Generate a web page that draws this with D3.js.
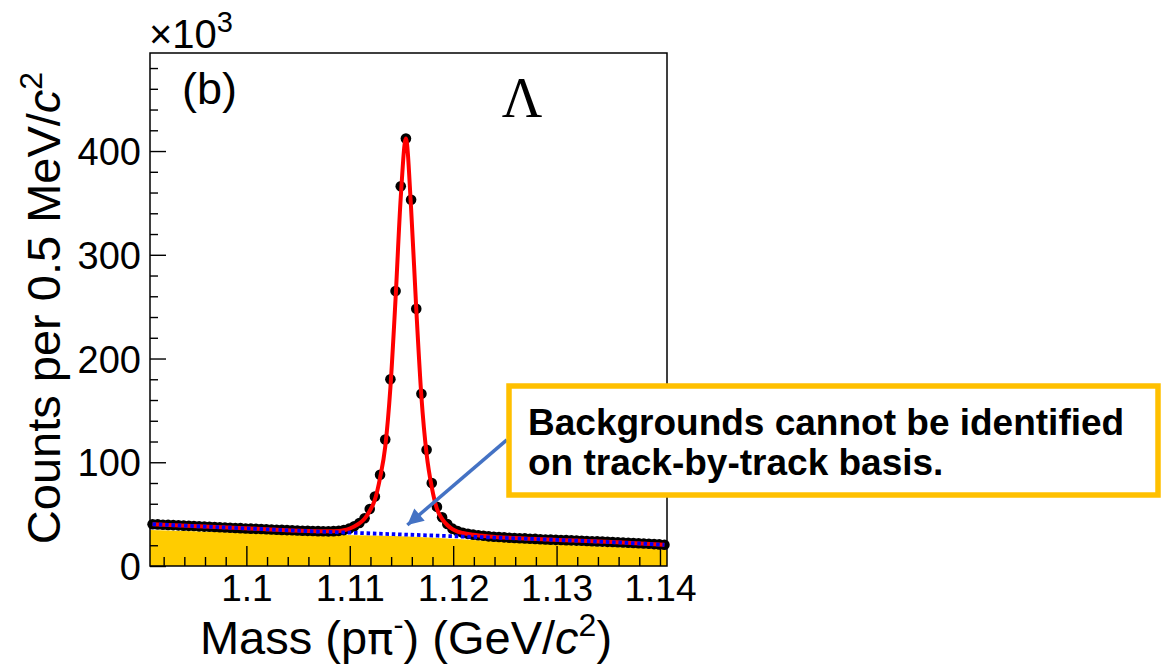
<!DOCTYPE html>
<html><head><meta charset="utf-8">
<script src="https://cdn.jsdelivr.net/npm/d3@7"></script>
<style>body{margin:0;background:#fff} svg{display:block}</style>
</head><body>
<svg id="c" width="1168" height="666"></svg>
<script>
// ---- data (counts in units of 10^3 per 0.5 MeV/c^2 bin) ----
const binLow = 1.09068;
const binWidth = 0.0005;
const counts = [
 40.3,40.1,39.8,39.6,39.4,39.2,38.9,38.7,38.5,38.2,
 38.0,37.8,37.6,37.3,37.1,36.9,36.7,36.5,36.2,36.0,
 35.8,35.6,35.4,35.2,35.0,34.8,34.6,34.4,34.2,34.0,
 33.9,33.7,33.6,33.5,33.4,33.6,33.9,34.6,36.0,38.3,
 41.5,46,55,67,88,122,180,265,366,412,
 353,248,166,112,80,57,47,40.5,36,33.6,
 32.0,31.0,30.2,29.6,29.1,28.6,28.2,27.9,27.6,27.3,
 27.0,26.8,26.6,26.3,26.1,25.8,25.6,25.4,25.2,25.0,
 24.9,24.7,24.5,24.3,24.1,23.9,23.7,23.5,23.3,23.1,
 22.9,22.7,22.4,22.2,21.9,21.7,21.4,21.1,20.8,20.5
];
// total fit (red), sampled at bin indices
const fitBins = [0,10,20,30,34,36,37,38,39,40,41,42,43,44,45,46,47,48,49,50,51,52,53,54,55,56,57,58,59,60,62,65,70,80,90,99];
const fitVals = [40.3,38.0,35.8,33.8,33.4,33.8,34.5,35.8,38.0,41.0,45.5,53,64,85,115,172,258,355,412,345,248,163,108,76,55,45.5,39.5,35.5,33.2,31.8,30.1,28.5,26.9,24.9,22.8,20.5];
// fitted background (blue dotted)
const bkgBins = [0,10,20,30,40,50,60,70,80,90,99];
const bkgVals = [40.3,38.0,35.8,33.6,31.8,30.1,28.4,26.7,24.8,22.7,20.4];
// estimated background histogram (yellow fill)
const fillMass = [1.09068,1.0957,1.1007,1.1057,1.1107,1.1157,1.1207,1.1257,1.1307,1.1357,1.14068];
const fillVals = [34.8,33.2,31.8,30.6,29.6,28.4,25.8,22.8,20.5,18.2,16.1];
// axis ticks
const xMajor = [1.10,1.11,1.12,1.13,1.14];
const xMajorLabels = ["1.1","1.11","1.12","1.13","1.14"];
const yMajor = [0,100,200,300,400];
const yMajorLabels = ["0","100","200","300","400"];

// ---- drawing ----
const svg = d3.select("#c");
const FONT = "'Liberation Sans', Arial, Helvetica, sans-serif";
const L = 150, R = 667, T = 53, B = 566;
const x = d3.scaleLinear().domain([1.09068, 1.14068]).range([L, R]);
const y = d3.scaleLinear().domain([0, 494.5]).range([B, T]);
const binCenter = i => binLow + (i + 0.5) * binWidth;

// yellow fill
svg.append("path")
  .datum(fillMass.map((m, i) => [m, fillVals[i]]))
  .attr("fill", "#FFCC00")
  .attr("d", d3.area().x(d => x(d[0])).y0(y(0)).y1(d => y(d[1])).curve(d3.curveMonotoneX));

// axes
const xMinor = d3.range(1.092, 1.1405, 0.002).filter(v => xMajor.every(t => Math.abs(t - v) > 1e-6));
const yMinor = d3.range(20, 494, 20).filter(v => v % 100 !== 0);

const gx = svg.append("g").attr("transform", `translate(0,${B})`);
gx.call(d3.axisBottom(x).tickValues(xMinor).tickSize(-9).tickFormat(""));
gx.call(g => g.select(".domain").remove());
const gx2 = svg.append("g").attr("transform", `translate(0,${B})`);
gx2.call(d3.axisBottom(x).tickValues(xMajor).tickSize(-20).tickPadding(9).tickFormat((d, i) => xMajorLabels[i]));
gx2.select(".domain").remove();

const gy = svg.append("g").attr("transform", `translate(${L},0)`);
gy.call(d3.axisLeft(y).tickValues(yMinor).tickSize(-8).tickFormat(""));
gy.select(".domain").remove();
const gy2 = svg.append("g").attr("transform", `translate(${L},0)`);
gy2.call(d3.axisLeft(y).tickValues(yMajor).tickSize(-16).tickPadding(9).tickFormat((d, i) => yMajorLabels[i]));
gy2.select(".domain").remove();

svg.selectAll(".tick line").attr("stroke", "#000").attr("stroke-width", 1.4);
svg.selectAll(".tick text").attr("font-family", FONT).attr("font-size", 37).attr("fill", "#000");
gy2.selectAll(".tick text").attr("font-size", 38).attr("dy", "0.36em");

// frame
svg.append("rect").attr("x", L).attr("y", T).attr("width", R - L).attr("height", B - T)
  .attr("fill", "none").attr("stroke", "#000").attr("stroke-width", 1.5);

// data points
svg.append("g").selectAll("circle").data(counts).join("circle")
  .attr("cx", (d, i) => x(binCenter(i))).attr("cy", d => y(d)).attr("r", 5.3).attr("fill", "#000");

// fit line
svg.append("path")
  .datum(fitBins.map((b, i) => [binCenter(b), fitVals[i]]))
  .attr("fill", "none").attr("stroke", "#FF0000").attr("stroke-width", 4)
  .attr("d", d3.line().x(d => x(d[0])).y(d => y(d[1])).curve(d3.curveMonotoneX));

// background fit (dotted blue)
svg.append("path")
  .datum(bkgBins.map((b, i) => [binCenter(b), bkgVals[i]]))
  .attr("fill", "none").attr("stroke", "#0000FF").attr("stroke-width", 3.8)
  .attr("stroke-dasharray", "3.5,2.8")
  .attr("d", d3.line().x(d => x(d[0])).y(d => y(d[1])).curve(d3.curveMonotoneX));

// exponent label
const ex = svg.append("text").attr("x", 149).attr("y", 48).attr("font-family", FONT).attr("font-size", 40).attr("fill", "#000");
ex.append("tspan").text("\u00d710");
ex.append("tspan").attr("font-size", 29).attr("dy", -16).text("3");

// (b) and Lambda
svg.append("text").attr("x", 182).attr("y", 104).attr("font-family", FONT).attr("font-size", 45).text("(b)");
svg.append("text").attr("x", 522).attr("y", 117).attr("text-anchor", "middle")
  .attr("font-family", "'Liberation Serif', 'Times New Roman', serif").attr("font-size", 56).text("\u039b");

// axis titles
const yt = svg.append("text").attr("transform", "translate(60,308) rotate(-90)")
  .attr("text-anchor", "middle").attr("font-family", FONT).attr("font-size", 47);
yt.append("tspan").text("Counts per 0.5 MeV/");
yt.append("tspan").attr("font-style", "italic").text("c");
yt.append("tspan").attr("font-size", 32).attr("dy", -18).text("2");

const xt = svg.append("text").attr("x", 406).attr("y", 654)
  .attr("text-anchor", "middle").attr("font-family", FONT).attr("font-size", 47);
xt.append("tspan").text("Mass (p");
xt.append("tspan").attr("font-family", "'DejaVu Sans', sans-serif").attr("font-size", 44).text("\u03c0");
xt.append("tspan").attr("font-size", 30).attr("dy", -19).text("-");
xt.append("tspan").attr("dy", 19).text(") (GeV/");
xt.append("tspan").attr("font-style", "italic").text("c");
xt.append("tspan").attr("font-size", 32).attr("dy", -18).text("2");
xt.append("tspan").attr("dy", 18).text(")");

// annotation arrow
const tip = [x(1.11557), y(39.5)];
const start = [x(1.12519), y(121.5)];
svg.append("line").attr("x1", start[0]).attr("y1", start[1])
  .attr("x2", tip[0]).attr("y2", tip[1]).attr("stroke", "#4472C4").attr("stroke-width", 3.5);
(function () {
  const dx = start[0] - tip[0], dy = start[1] - tip[1], len = Math.hypot(dx, dy);
  const ux = dx / len, uy = dy / len, hl = 16, hw = 8;
  const bx = tip[0] + ux * hl, by = tip[1] + uy * hl;
  svg.append("path").attr("fill", "#4472C4")
    .attr("d", `M${tip[0]},${tip[1]}L${bx - uy * hw},${by + ux * hw}L${bx + uy * hw},${by - ux * hw}Z`);
})();

// annotation box
svg.append("rect").attr("x", 509).attr("y", 386).attr("width", 649).attr("height", 109)
  .attr("fill", "#fff").attr("stroke", "#FFC000").attr("stroke-width", 5.5);
const at = svg.append("text").attr("font-family", FONT).attr("font-weight", "bold").attr("font-size", 37).attr("fill", "#000");
at.append("tspan").attr("x", 528).attr("y", 435).text("Backgrounds cannot be identified");
at.append("tspan").attr("x", 528).attr("y", 475).text("on track-by-track basis.");
</script>
</body></html>
